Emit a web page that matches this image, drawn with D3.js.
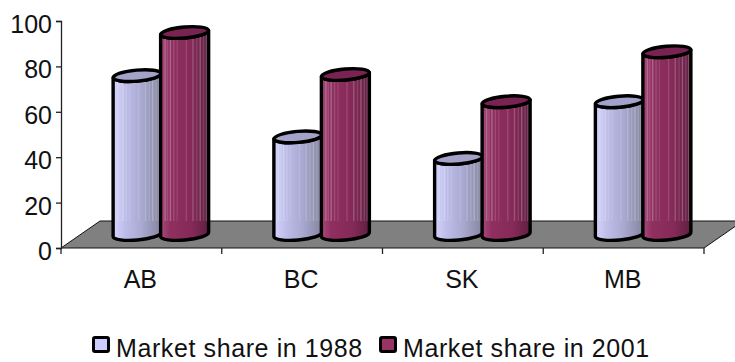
<!DOCTYPE html>
<html>
<head>
<meta charset="utf-8">
<script src="https://cdn.jsdelivr.net/npm/d3@7/dist/d3.min.js"></script>
<style>
html,body{margin:0;padding:0;background:#fff}
svg{display:block}
text{font-family:"Liberation Sans",Arial,sans-serif;fill:#111}
</style>
</head>
<body>
<svg id="chart" width="735" height="362"></svg>
<script>
// Chart data
const categories = ["AB", "BC", "SK", "MB"];
const seriesNames = ["Market share in 1988", "Market share in 2001"];
const share1988 = [70, 43, 33.5, 58.5];
const share2001 = [89, 70.5, 58.5, 80.5];
const yTicks = [0, 20, 40, 60, 80, 100];

// Drawing constants for the oblique 3D look
const plot = {left: 61, right: 704, top: 21, bottom: 248};
const depth = {dx: 39, dy: -27};
const cyl = {rx: 24, ry: 5.5, tilt: -5};

const palette = [
  {top: "#a3a3c9", swatch: "#ccccff",
   stops: [[0, "#d4d4ff"], [0.25, "#bdbde8"], [0.6, "#a8a8d0"], [1, "#85859f"]]},
  {top: "#782352", swatch: "#993366",
   stops: [[0, "#a84a7c"], [0.2, "#8f2f60"], [0.65, "#852a58"], [1, "#5f1f42"]]}
];
// Fine vertical streaks on the cylinder walls (fraction of width, opacity)
const streaks = [[0.08,.22],[0.13,.12],[0.19,.26],[0.26,.14],[0.33,.1],[0.52,.14],[0.66,.2],[0.74,.12],[0.81,.24],[0.88,.14],[0.94,.2]];

const svg = d3.select("#chart");
const x = d3.scaleBand().domain(categories).range([plot.left, plot.right]);
const y = d3.scaleLinear().domain([0, 100]).range([plot.bottom, plot.top]);
const sub = d3.scaleBand().domain(d3.range(seriesNames.length))
  .range([-47.5, 47.5]);

const defs = svg.append("defs");
palette.forEach((p, i) => {
  defs.append("linearGradient").attr("id", "wall" + i)
    .selectAll("stop").data(p.stops).join("stop")
    .attr("offset", d => d[0]).attr("stop-color", d => d[1]);
});

// Floor of the plot
const floorPts = [
  [plot.left, plot.bottom],
  [plot.right, plot.bottom],
  [plot.right + depth.dx, plot.bottom + depth.dy],
  [plot.left + depth.dx, plot.bottom + depth.dy]
];
svg.append("polygon").attr("points", floorPts.join(" "))
  .attr("fill", "#808080").attr("stroke", "#111").attr("stroke-width", 1);

// Axes
const yAxis = d3.axisLeft(y).tickValues(yTicks).tickSize(5).tickPadding(4);
const gy = svg.append("g").attr("transform", `translate(${plot.left},0)`).call(yAxis);
gy.selectAll("text").attr("font-size", 25).attr("dy", "0.46em")
  .style("font-family", '"Liberation Sans"');
gy.selectAll("line,path").attr("stroke", "#222").attr("stroke-width", 1.3);

const boundaries = x.domain().map(c => x(c)).concat(plot.right);
svg.append("g").selectAll("line").data(boundaries).join("line")
  .attr("x1", d => d).attr("x2", d => d)
  .attr("y1", plot.bottom).attr("y2", plot.bottom + 6)
  .attr("stroke", "#222").attr("stroke-width", 1.3);
svg.append("g").selectAll("text").data(categories).join("text")
  .attr("x", d => x(d) + x.bandwidth() / 2 - 1)
  .attr("y", plot.bottom + 40)
  .attr("text-anchor", "middle").attr("font-size", 25)
  .text(d => d);

// Cylinders: 1988 first so the 2001 column overlaps it
const rot = cyl.tilt * Math.PI / 180;
const sinT = Math.sin(rot) * cyl.rx;
function cylinder(group, cat, value, s) {
  const cx = x(cat) + x.bandwidth() / 2 + depth.dx / 2 + sub(s) + sub.bandwidth() / 2;
  const base = plot.bottom + depth.dy / 2;
  const top = y(value) + depth.dy / 2;
  const l = cx - cyl.rx, r = cx + cyl.rx;
  const ell = `A${cyl.rx} ${cyl.ry} ${cyl.tilt}`;
  const wall = `M${l} ${top - sinT}L${l} ${base - sinT}${ell} 0 0 ${r} ${base + sinT}L${r} ${top + sinT}${ell} 0 1 ${l} ${top - sinT}Z`;
  const g = group.append("g");
  const clipId = `clip-${cat}-${s}`;
  defs.append("clipPath").attr("id", clipId).append("path").attr("d", wall);
  g.append("path").attr("d", wall).attr("fill", `url(#wall${s})`);
  // streaks stay above the back edge of the floor
  g.append("g").attr("clip-path", `url(#${clipId})`)
    .selectAll("rect").data(streaks).join("rect")
    .attr("x", d => l + d[0] * 2 * cyl.rx).attr("width", 1.4)
    .attr("y", top - 12).attr("height", Math.max(0, plot.bottom + depth.dy - top + 12))
    .attr("fill", "#fff").attr("opacity", d => d[1]);
  g.append("path").attr("d", wall).attr("fill", "none")
    .attr("stroke", "#000").attr("stroke-width", 3.4).attr("stroke-linejoin", "round");
  g.append("ellipse").attr("cx", cx).attr("cy", top)
    .attr("rx", cyl.rx).attr("ry", cyl.ry)
    .attr("transform", `rotate(${cyl.tilt} ${cx} ${top})`)
    .attr("fill", palette[s].top)
    .attr("stroke", "#000").attr("stroke-width", 3.4);
}
const bars = svg.append("g");
categories.forEach((c, i) => {
  cylinder(bars, c, share1988[i], 0);
  cylinder(bars, c, share2001[i], 1);
});

// Legend
const legendX = [92, 379];
const legend = svg.append("g").selectAll("g").data(seriesNames).join("g")
  .attr("transform", (d, i) => `translate(${legendX[i]},336)`);
legend.append("rect").attr("x", 1.5).attr("y", 1.5).attr("width", 15).attr("height", 14)
  .attr("rx", 1.5)
  .attr("fill", (d, i) => palette[i].swatch)
  .attr("stroke", "#000").attr("stroke-width", 3);
legend.append("text").attr("x", 24).attr("y", 20.6)
  .attr("font-size", 25).attr("letter-spacing", 0.6)
  .text(d => d);
</script>
</body>
</html>
